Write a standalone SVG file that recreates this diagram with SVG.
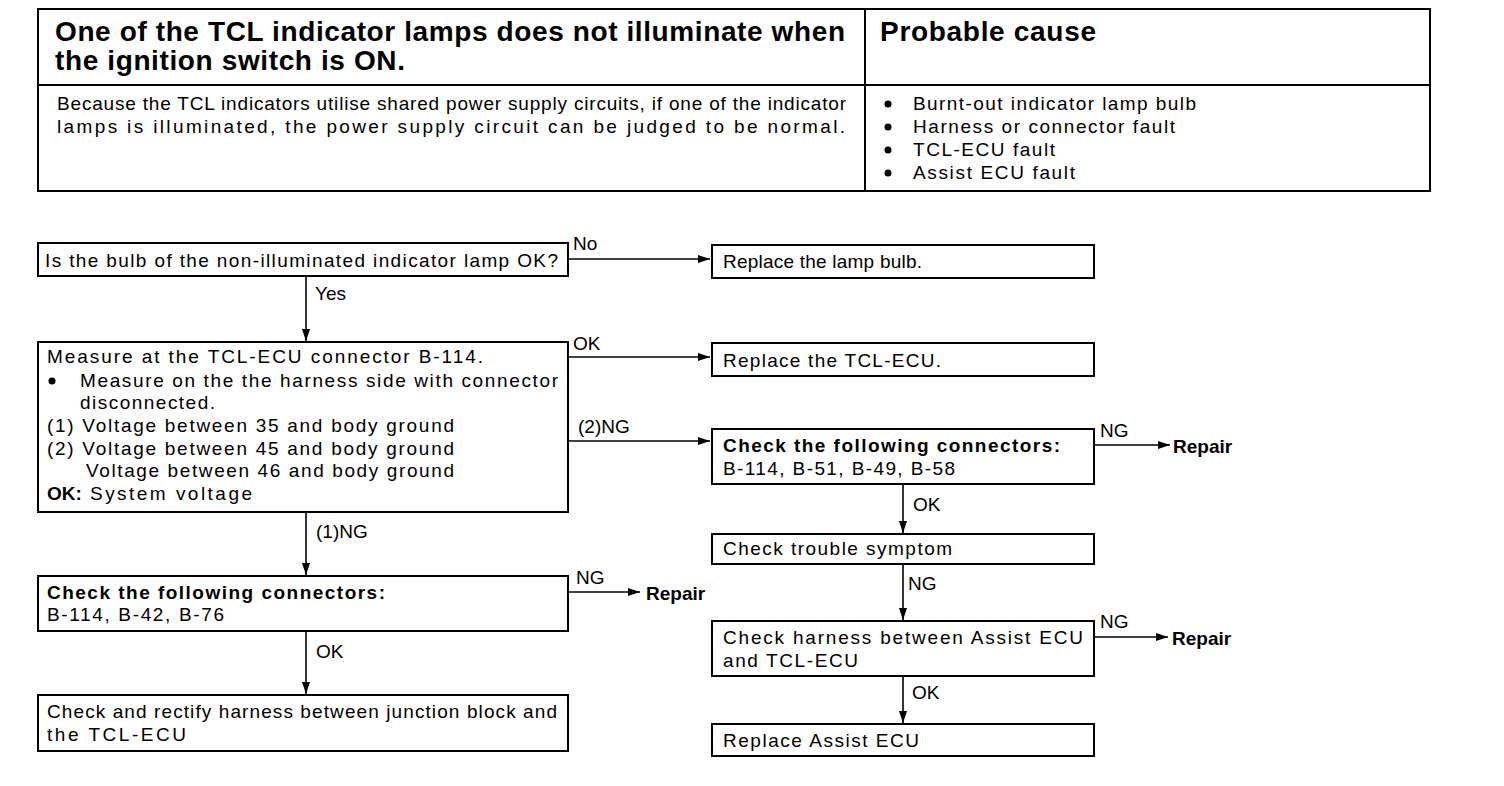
<svg xmlns="http://www.w3.org/2000/svg" width="1504" height="786" viewBox="0 0 1504 786">
<defs>
<marker id="ah" viewBox="0 0 12 8" refX="12" refY="4" markerWidth="12" markerHeight="8" markerUnits="userSpaceOnUse" orient="auto">
<path d="M0,0 L12,4 L0,8 Z" fill="#000"/>
</marker>
<style>
text{font-family:"Liberation Sans",Arial,sans-serif;fill:#000}
.t{font-size:19px}
.b{font-weight:bold}
.h{font-size:28px;font-weight:bold}
.box{fill:#fff;stroke:#000;stroke-width:2}
.tbl{fill:none;stroke:#000;stroke-width:2}
.c{fill:none;stroke:#000;stroke-width:1.6;marker-end:url(#ah)}
</style>
</defs>
<rect width="1504" height="786" fill="#fff"/>

<g id="table">
<rect class="tbl" x="38" y="9" width="1392" height="182"/>
<line class="tbl" x1="38" y1="85" x2="1430" y2="85"/>
<line class="tbl" x1="865" y1="9" x2="865" y2="191" stroke-width="1"/>
<text class="h" x="55" y="41" textLength="790" lengthAdjust="spacing">One of the TCL indicator lamps does not illuminate when</text>
<text class="h" x="55" y="70" textLength="350" lengthAdjust="spacing">the ignition switch is ON.</text>
<text class="h" x="880" y="41" textLength="216" lengthAdjust="spacing">Probable cause</text>
<text class="t" x="57" y="110" textLength="789" lengthAdjust="spacing">Because the TCL indicators utilise shared power supply circuits, if one of the indicator</text>
<text class="t" x="57" y="133" textLength="788" lengthAdjust="spacing">lamps is illuminated, the power supply circuit can be judged to be normal.</text>
<g class="t">
<circle cx="888" cy="104" r="3.5"/><text class="t" x="913" y="110" textLength="283" lengthAdjust="spacing">Burnt-out indicator lamp bulb</text>
<circle cx="888" cy="127" r="3.5"/><text class="t" x="913" y="133" textLength="262" lengthAdjust="spacing">Harness or connector fault</text>
<circle cx="888" cy="150" r="3.5"/><text class="t" x="913" y="156" textLength="142" lengthAdjust="spacing">TCL-ECU fault</text>
<circle cx="888" cy="173" r="3.5"/><text class="t" x="913" y="179" textLength="162" lengthAdjust="spacing">Assist ECU fault</text>
</g>
</g>

<g id="connectors">
<line class="c" x1="568" y1="259" x2="710" y2="259"/>
<line class="c" x1="306" y1="276" x2="306" y2="341"/>
<line class="c" x1="568" y1="357" x2="710" y2="357"/>
<line class="c" x1="568" y1="441" x2="710" y2="441"/>
<line class="c" x1="1094" y1="445" x2="1170" y2="445"/>
<line class="c" x1="903" y1="484" x2="903" y2="533"/>
<line class="c" x1="903" y1="564" x2="903" y2="620"/>
<line class="c" x1="1094" y1="637" x2="1168" y2="637"/>
<line class="c" x1="903" y1="676" x2="903" y2="723"/>
<line class="c" x1="306" y1="512" x2="306" y2="575"/>
<line class="c" x1="568" y1="592" x2="640" y2="592"/>
<line class="c" x1="306" y1="631" x2="306" y2="694"/>
<text class="t" x="573" y="250">No</text>
<text class="t" x="315" y="300">Yes</text>
<text class="t" x="573" y="350">OK</text>
<text class="t" x="578" y="433">(2)NG</text>
<text class="t" x="1100" y="437">NG</text>
<text class="t b" x="1173" y="453">Repair</text>
<text class="t" x="913" y="511">OK</text>
<text class="t" x="908" y="590">NG</text>
<text class="t" x="1100" y="628">NG</text>
<text class="t b" x="1172" y="645">Repair</text>
<text class="t" x="912" y="699">OK</text>
<text class="t" x="316" y="538">(1)NG</text>
<text class="t" x="576" y="584">NG</text>
<text class="t b" x="646" y="600">Repair</text>
<text class="t" x="316" y="658">OK</text>
</g>

<g id="n1">
<rect class="box" x="38" y="243" width="530" height="33"/>
<text class="t" x="45" y="267" textLength="513" lengthAdjust="spacing">Is the bulb of the non-illuminated indicator lamp OK?</text>
</g>
<g id="n2">
<rect class="box" x="712" y="245" width="382" height="33"/>
<text class="t" x="723" y="268" textLength="199" lengthAdjust="spacing">Replace the lamp bulb.</text>
</g>
<g id="n3">
<rect class="box" x="38" y="342" width="530" height="170"/>
<text class="t" x="47" y="363" textLength="436" lengthAdjust="spacing">Measure at the TCL-ECU connector B-114.</text>
<circle cx="52" cy="381" r="3.5"/>
<text class="t" x="80" y="387" textLength="478" lengthAdjust="spacing">Measure on the the harness side with connector</text>
<text class="t" x="80" y="409" textLength="135" lengthAdjust="spacing">disconnected.</text>
<text class="t" x="47" y="432" textLength="407" lengthAdjust="spacing">(1) Voltage between 35 and body ground</text>
<text class="t" x="47" y="455" textLength="407" lengthAdjust="spacing">(2) Voltage between 45 and body ground</text>
<text class="t" x="86" y="477" textLength="368" lengthAdjust="spacing">Voltage between 46 and body ground</text>
<text class="t b" x="47" y="500">OK:</text>
<text class="t" x="90" y="500" textLength="162" lengthAdjust="spacing">System voltage</text>
</g>
<g id="n4">
<rect class="box" x="712" y="343" width="382" height="33"/>
<text class="t" x="723" y="367" textLength="218" lengthAdjust="spacing">Replace the TCL-ECU.</text>
</g>
<g id="n5">
<rect class="box" x="712" y="429" width="382" height="55"/>
<text class="t b" x="723" y="452" textLength="337" lengthAdjust="spacing">Check the following connectors:</text>
<text class="t" x="723" y="475" textLength="232" lengthAdjust="spacing">B-114, B-51, B-49, B-58</text>
</g>
<g id="n6">
<rect class="box" x="712" y="534" width="382" height="30"/>
<text class="t" x="723" y="555" textLength="229" lengthAdjust="spacing">Check trouble symptom</text>
</g>
<g id="n7">
<rect class="box" x="712" y="621" width="382" height="55"/>
<text class="t" x="723" y="644" textLength="360" lengthAdjust="spacing">Check harness between Assist ECU</text>
<text class="t" x="723" y="667" textLength="135" lengthAdjust="spacing">and TCL-ECU</text>
</g>
<g id="n8">
<rect class="box" x="712" y="724" width="382" height="32"/>
<text class="t" x="723" y="747" textLength="196" lengthAdjust="spacing">Replace Assist ECU</text>
</g>
<g id="n9">
<rect class="box" x="38" y="576" width="530" height="55"/>
<text class="t b" x="47" y="599" textLength="338" lengthAdjust="spacing">Check the following connectors:</text>
<text class="t" x="47" y="621" textLength="177" lengthAdjust="spacing">B-114, B-42, B-76</text>
</g>
<g id="n10">
<rect class="box" x="38" y="695" width="530" height="56"/>
<text class="t" x="47" y="718" textLength="510" lengthAdjust="spacing">Check and rectify harness between junction block and</text>
<text class="t" x="47" y="741" textLength="139" lengthAdjust="spacing">the TCL-ECU</text>
</g>
</svg>
